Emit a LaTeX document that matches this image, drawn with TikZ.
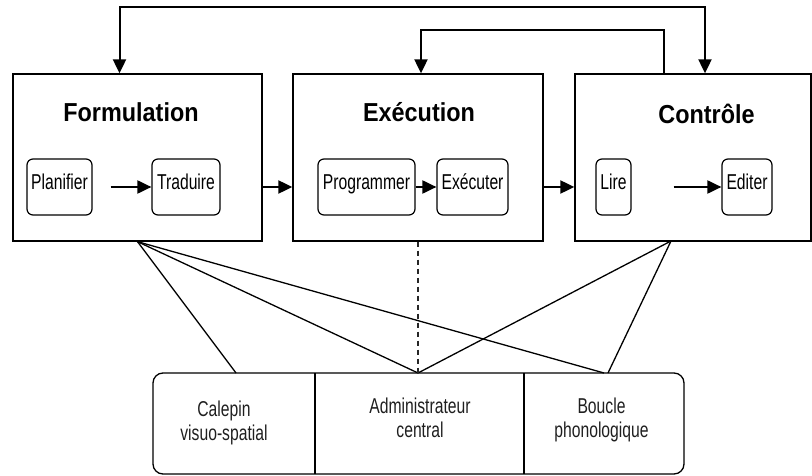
\documentclass[tikz,border=0pt]{standalone}
\usepackage{fontspec}
\setmainfont{Liberation Sans}
\newfontfamily\titlefont{Liberation Sans}[FakeStretch=0.9]
\newfontfamily\bodyfont{Liberation Sans}[FakeStretch=0.73]
\usetikzlibrary{arrows.meta,calc}
\begin{document}
\begin{tikzpicture}[x=1pt,y=-1pt,
  mainbox/.style={draw, line width=1.3pt, minimum height=167pt, inner sep=0pt},
  subbox/.style={draw, rounded corners=6pt, line width=1.2pt, minimum height=56pt,
    inner sep=0pt, font=\bodyfont\fontsize{21.5}{24}\selectfont, text height=15pt, text depth=10pt},
  title/.style={font=\titlefont\bfseries\fontsize{26}{30}\selectfont, anchor=base, inner sep=0pt},
  tip/.tip={Triangle[length=14pt,width=13pt]},
  arr/.style={line width=2pt, -tip},
  loop/.style={line width=2pt},
  link/.style={line width=1.3pt},
  btxt/.style={font=\bodyfont\fontsize{21.5}{24}\selectfont, align=center, inner sep=0pt, text=black!88}
]
\useasboundingbox (0,0) rectangle (812,476);

% main boxes
\node[mainbox, minimum width=249pt] (form) at (137.5,157.5) {};
\node[mainbox, minimum width=250pt] (exec) at (418,157.5) {};
\node[mainbox, minimum width=236pt] (ctrl) at (693,157.5) {};

% titles
\node[title] (tform) at (131,122) {Formulation};
\node[title] (texec) at (419,122) {Exécution};
\node[title] (tctrl) at (706.5,124) {Contrôle};

% sub boxes
\node[subbox, minimum width=65pt] (plan) at (59.5,187) {Planifier};
\node[subbox, minimum width=68pt] (trad) at (186,187) {Traduire};
\node[subbox, minimum width=97pt] (prog) at (366.5,187) {Programmer};
\node[subbox, minimum width=71pt] (exe) at (472.5,187) {Exécuter};
\node[subbox, minimum width=35pt] (lire) at (613.5,187) {Lire};
\node[subbox, minimum width=50pt] (edit) at (747,187) {Editer};

% arrows inside
\draw[arr] ([xshift=18pt]plan.east) -- (trad.west);
\draw[arr] (prog.east) -- (exe.west);
\draw[arr] ([xshift=42pt]lire.east) -- (edit.west);

% arrows between boxes
\draw[arr] (form.east |- plan.east) -- (exec.west |- plan.east);
\draw[arr] (exec.east |- plan.east) -- (ctrl.west |- plan.east);

% feedback loops
\draw[loop, tip-tip]
  ([xshift=-18pt]form.north) -- ++(0,-66) -| ([xshift=12pt]ctrl.north);
\draw[arr] ([xshift=-29pt]ctrl.north) -- ++(0,-43) -| ([xshift=3pt]exec.north);

% working memory box
\node[draw, rounded corners=10pt, line width=1.3pt, minimum width=531pt, minimum height=101pt, inner sep=0pt]
  (wm) at (418.5,423.5) {};
\coordinate (d1t) at (315,373); \coordinate (d1b) at (315,474);
\coordinate (d2t) at (524,373); \coordinate (d2b) at (524,474);
\draw[link] (d1t) -- (d1b);
\draw[link] (d2t) -- (d2b);

\node[btxt] (cal) at (224,423) {Calepin\\visuo-spatial};
\node[btxt] (adm) at (420,418) {Administrateur\\central};
\node[btxt] (bou) at (601.5,420) {Boucle\\phonologique};

\coordinate (calN) at (236,373);
\coordinate (admN) at (418,373);
\coordinate (bouN) at (604,373);
\coordinate (bouN2) at (608,373);
\coordinate (ctrlS) at (671,241);

\draw[link] (form.south) -- (calN);
\draw[link] (form.south) -- (admN);
\draw[link] (form.south) -- (bouN);
\draw[link] (ctrlS) -- (admN);
\draw[link] (ctrlS) -- (bouN2);
\draw[line width=1.2pt, dash pattern=on 5pt off 4pt, black!85] (exec.south) -- (admN);
\end{tikzpicture}
\end{document}
